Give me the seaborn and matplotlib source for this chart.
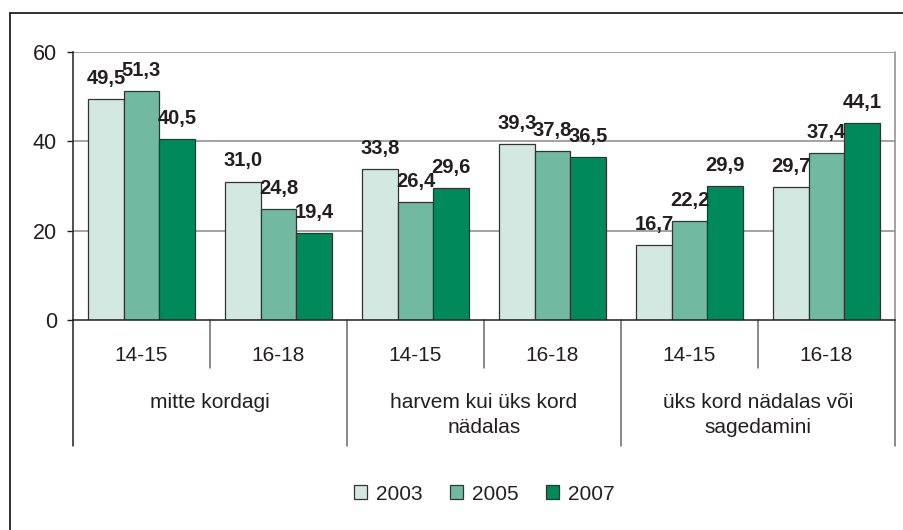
import matplotlib
matplotlib.use("Agg")
import matplotlib.pyplot as plt
import pandas as pd
import seaborn as sns
from matplotlib.lines import Line2D
from matplotlib.patches import Patch
from matplotlib.transforms import blended_transform_factory

# data
groups = ["mitte kordagi", "harvem kui üks kord\nnädalas", "üks kord nädalas või\nsagedamini"]
ages = ["14-15", "16-18"]
years = ["2003", "2005", "2007"]
v2003 = [49.5, 31.0, 33.8, 39.3, 16.7, 29.7]
v2005 = [51.3, 24.8, 26.4, 37.8, 22.2, 37.4]
v2007 = [40.5, 19.4, 29.6, 36.5, 29.9, 44.1]
yticks = [0, 20, 40, 60]

colors = ["#d3e8e0", "#72b9a2", "#008a5c"]
dark = "#231f20"
grey = "#8a8a8a"

slots = [f"{g}|{a}" for g in groups for a in ages]
df = pd.DataFrame({
    "slot": slots * 3,
    "year": [y for y in years for _ in slots],
    "value": v2003 + v2005 + v2007,
})

sns.set_style("white")
plt.rcParams["font.family"] = ["Liberation Sans", "DejaVu Sans"]

fig = plt.figure(figsize=(9.04, 5.30), dpi=100)
ax = fig.add_axes([73 / 904, 1 - 320 / 530, (895 - 73) / 904, (320 - 52) / 530])

sns.barplot(data=df, x="slot", y="value", hue="year", order=slots,
            hue_order=years, palette=colors, saturation=1, width=0.78, gap=0,
            edgecolor="#333333", linewidth=0.9, legend=False, ax=ax)

for cont in ax.containers:
    labels = [f"{b.get_height():.1f}".replace(".", ",") for b in cont]
    ax.bar_label(cont, labels=labels, padding=8, fontsize=14.5,
                 fontweight="bold", color=dark)

ax.set_ylim(0, 60)
ax.set_xlim(-0.5, len(slots) - 0.5)
ax.set_yticks(yticks)
ax.set_xticks([])
ax.set_xlabel("")
ax.set_ylabel("")
ax.tick_params(axis="y", which="both", left=True, length=4.5, width=1,
               color=dark, pad=7, labelsize=15.5, labelcolor=dark, direction="out")
for y in yticks[1:]:
    ax.axhline(y, color=grey, lw=1.1, zorder=0)

for side in ["top", "right"]:
    ax.spines[side].set_visible(False)
ax.spines["left"].set_color(dark)
ax.spines["bottom"].set_color(dark)
ax.spines["left"].set_linewidth(1.1)
ax.spines["bottom"].set_linewidth(1.1)

# category axis drawn by hand: age row and group row with dividers
tr = blended_transform_factory(ax.transData, ax.transAxes)
h = 268.0
for i, s in enumerate(slots):
    ax.text(i, -41 / h, s.split("|")[1], transform=tr, ha="center",
            va="baseline", fontsize=15, color=dark)
for j, g in enumerate(groups):
    for n, line in enumerate(g.split("\n")):
        ax.text(2 * j + 0.5, -(88 + 25 * n) / h, line, transform=tr,
                ha="center", va="baseline", fontsize=15, color=dark)

for k in range(len(slots) + 1):
    x = k - 0.5
    bottom = -126 / h if k % 2 == 0 else -48 / h
    col = dark if k == 0 else "#6a6a6a"
    ax.add_line(Line2D([x, x], [0, bottom], transform=tr, color=col,
                       lw=1.1, clip_on=False))
ax.add_line(Line2D([len(slots) - 0.5] * 2, [0, 1], transform=tr, color=grey,
                   lw=1.1, clip_on=False))

handles = [Patch(facecolor=c, edgecolor="#333333", linewidth=0.9) for c in colors]
fig.legend(handles, years, loc="center", bbox_to_anchor=(0.536, 1 - 494 / 530),
           ncol=3, frameon=False, fontsize=15, handlelength=0.62,
           handleheight=0.62, handletextpad=0.45, columnspacing=1.3,
           labelcolor=dark)

# outer frame (cut off at right and bottom)
fx, fy = 10 / 904, 1 - 13 / 530
fig.add_artist(Line2D([fx, fx], [0, fy], transform=fig.transFigure,
                      color=dark, lw=1.3))
fig.add_artist(Line2D([fx, 1], [fy, fy], transform=fig.transFigure,
                      color=dark, lw=1.3))

fig.savefig("out.png", dpi=100)
